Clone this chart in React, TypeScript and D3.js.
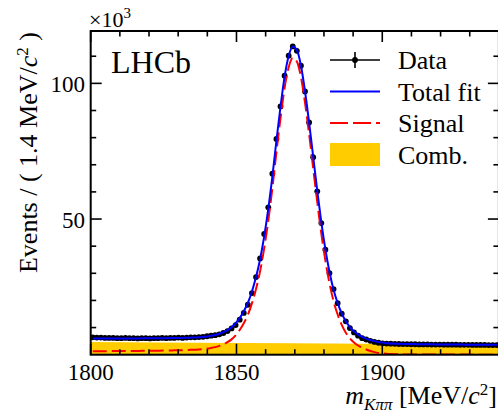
import React from "react";
import * as d3 from "d3";

// Histogram definition (MeV/c^2)
const binLow = 1800;
const binWidth = 1.4;

// Data counts per bin (x10^3 events)
const dataCounts = [
  6.4, 6.3, 6.3, 6.2, 6.2, 6.2, 6.1, 6.1, 6.2, 6.1,
  6.1, 6.0, 6.1, 6.1, 6.0, 6.1, 6.1, 6.2, 6.1, 6.2,
  6.2, 6.3, 6.2, 6.3, 6.4, 6.4, 6.5, 6.6, 6.8, 7.0,
  7.2, 7.5, 8.0, 8.7, 9.7, 10.9, 12.9, 15.4, 18.4, 22.7,
  28.6, 35.5, 44.5, 54.3, 66.7, 79.5, 91.5, 102.8, 110.2, 113.6,
  112.0, 106.5, 97.0, 85.6, 72.8, 60.2, 48.5, 38.7, 30.1, 24.2,
  19.0, 15.1, 12.3, 9.8, 8.2, 7.0, 6.1, 5.6, 5.1, 4.7,
  4.4, 4.2, 4.1, 4.05, 4.0, 3.95, 3.9, 3.9, 3.85, 3.85,
  3.8, 3.8, 3.8, 3.75, 3.75, 3.75, 3.7, 3.7, 3.7, 3.7,
  3.65, 3.65, 3.65, 3.6, 3.6, 3.6, 3.6, 3.55, 3.55, 3.55,
];

// Total fit evaluated at bin centres (x10^3)
const totalFit = [
  6.0, 6.0, 6.0, 6.0, 6.0, 6.0, 6.0, 6.0, 6.0, 6.0,
  6.01, 6.01, 6.02, 6.03, 6.04, 6.05, 6.06, 6.08, 6.1, 6.12,
  6.14, 6.17, 6.2, 6.24, 6.28, 6.34, 6.42, 6.52, 6.7, 6.95,
  7.25, 7.7, 8.3, 9.05, 10.1, 11.6, 13.5, 16.0, 19.1, 23.3,
  28.6, 35.2, 43.6, 53.7, 65.6, 78.9, 91.4, 102.5, 110.1, 113.6,
  112.3, 106.6, 97.1, 85.6, 73.0, 60.5, 48.8, 38.8, 30.5, 23.9,
  19.0, 15.2, 12.3, 10.2, 8.6, 7.5, 6.6, 5.95, 5.4, 5.0,
  4.7, 4.5, 4.25, 4.15, 4.08, 4.02, 3.98, 3.95, 3.92, 3.9,
  3.88, 3.86, 3.84, 3.82, 3.8, 3.78, 3.77, 3.76, 3.74, 3.73,
  3.72, 3.71, 3.7, 3.69, 3.68, 3.67, 3.66, 3.65, 3.64, 3.63,
];

// Signal component at bin centres (x10^3)
const signalFit = [
  1.3, 1.3, 1.31, 1.31, 1.32, 1.33, 1.34, 1.35, 1.36, 1.37,
  1.38, 1.4, 1.41, 1.43, 1.45, 1.47, 1.49, 1.51, 1.54, 1.57,
  1.6, 1.64, 1.68, 1.73, 1.79, 1.86, 1.95, 2.07, 2.25, 2.5,
  2.8, 3.25, 3.85, 4.6, 5.65, 7.15, 9.1, 11.6, 14.7, 18.9,
  24.2, 30.8, 39.2, 49.3, 61.3, 74.7, 87.2, 98.3, 105.9, 109.4,
  108.1, 102.4, 92.9, 81.4, 68.8, 56.3, 44.6, 34.6, 26.3, 19.7,
  14.8, 11.0, 8.1, 6.0, 4.5, 3.4, 2.55, 1.9, 1.35, 0.95,
  0.67, 0.48, 0.35, 0.26, 0.2, 0.16, 0.13, 0.11, 0.09, 0.08,
  0.07, 0.06, 0.055, 0.05, 0.045, 0.04, 0.038, 0.036, 0.034, 0.032,
  0.03, 0.029, 0.028, 0.027, 0.026, 0.025, 0.024, 0.023, 0.022, 0.02,
];

// Combinatorial background (x10^3)
const combMass = [1800, 1835, 1870, 1905, 1940];
const combValues = [4.7, 4.45, 4.2, 3.9, 3.6];

const xMajorTicks = [1800, 1850, 1900];
const yMajorTicks = [50, 100];
const legendLabels = ["Data", "Total fit", "Signal", "Comb."];

const W = 498;
const H = 416;
const FONT = "'Liberation Serif', 'Times New Roman', serif";

export default function App() {
  const x = d3.scaleLinear().domain([1800, 1940]).range([90.7, 498.9]);
  const y = d3.scaleLinear().domain([0, 119.3]).range([354.7, 31]);
  const left = x(1800);
  const right = x(1940);
  const top = y(119.3);
  const bottom = y(0);

  const centers = dataCounts.map((_, i) => binLow + binWidth * (i + 0.5));

  const lineGen = d3
    .line<number>()
    .x((_, i) => x(centers[i]))
    .y((d) => y(d))
    .curve(d3.curveMonotoneX);

  const combArea = d3
    .area<number>()
    .x((_, i) => x(combMass[i]))
    .y0(y(0))
    .y1((d) => y(d));

  const xMinor = d3.range(1800, 1941, 10);
  const yMinor = d3.range(10, 120, 10);

  const legendX0 = 330;
  const legendX1 = 380;
  const legendText = 398;
  const rows = [60, 91.5, 123, 154.5];

  return (
    <svg
      width={W}
      height={H}
      style={{ position: "absolute", left: 0, top: 0, background: "#fff" }}
      fontFamily={FONT}
    >
      <rect x={0} y={0} width={W} height={H} fill="#fff" />
      <defs>
        <clipPath id="plotclip">
          <rect x={left} y={top} width={right - left} height={bottom - top} />
        </clipPath>
      </defs>

      <g clipPath="url(#plotclip)">
        <path d={combArea(combValues) || ""} fill="#FFCC00" />
        {dataCounts.map((v, i) => {
          const cx = x(centers[i]);
          const cy = y(v);
          const err = Math.sqrt(v * 1000) / 1000;
          return (
            <g key={i}>
              <line
                x1={x(centers[i] - binWidth / 2)}
                x2={x(centers[i] + binWidth / 2)}
                y1={cy}
                y2={cy}
                stroke="#000"
                strokeWidth={1.6}
              />
              <line x1={cx} x2={cx} y1={y(v - err)} y2={y(v + err)} stroke="#000" strokeWidth={1.6} />
              <circle cx={cx} cy={cy} r={2.9} fill="#000" />
            </g>
          );
        })}
        <path
          d={lineGen(signalFit) || ""}
          fill="none"
          stroke="#FF0000"
          strokeWidth={2}
          strokeDasharray="14,5"
        />
        <path d={lineGen(totalFit) || ""} fill="none" stroke="#0000FF" strokeWidth={2} />
      </g>

      {xMinor.map((t) => {
        const major = xMajorTicks.includes(t) || t % 50 === 0;
        const len = major ? 11 : 5.5;
        return (
          <g key={"xt" + t}>
            <line x1={x(t)} x2={x(t)} y1={bottom} y2={bottom - len} stroke="#000" strokeWidth={1.6} />
            <line x1={x(t)} x2={x(t)} y1={top} y2={top + len} stroke="#000" strokeWidth={1.6} />
          </g>
        );
      })}
      {yMinor.map((t) => {
        const major = t % 50 === 0;
        const len = major ? 11 : 5.5;
        return (
          <g key={"yt" + t}>
            <line x1={left} x2={left + len} y1={y(t)} y2={y(t)} stroke="#000" strokeWidth={1.6} />
            <line x1={right} x2={right - len} y1={y(t)} y2={y(t)} stroke="#000" strokeWidth={1.6} />
          </g>
        );
      })}

      <rect
        x={left}
        y={top}
        width={right - left}
        height={bottom - top}
        fill="none"
        stroke="#000"
        strokeWidth={2}
      />

      {xMajorTicks.map((t) => (
        <text key={"xl" + t} x={x(t)} y={380} fontSize={23} textAnchor="middle" fill="#000">
          {t}
        </text>
      ))}
      {yMajorTicks.map((t) => (
        <text key={"yl" + t} x={85} y={y(t) + 8.5} fontSize={23} textAnchor="end" fill="#000">
          {t}
        </text>
      ))}
      <text x={89} y={27} fontSize={22} fill="#000">
        ×10
        <tspan dy={-9} fontSize={15}>
          3
        </tspan>
      </text>

      <text x={497} y={404} fontSize={26} textAnchor="end" fill="#000">
        <tspan fontStyle="italic">m</tspan>
        <tspan dy={6} fontSize={17} fontStyle="italic">
          Kππ
        </tspan>
        <tspan dy={-6}> [MeV/</tspan>
        <tspan fontStyle="italic">c</tspan>
        <tspan dy={-9} fontSize={17}>
          2
        </tspan>
        <tspan dy={9}>]</tspan>
      </text>
      <text
        transform="translate(37,32) rotate(-90)"
        fontSize={26}
        textAnchor="end"
        fill="#000"
      >
        Events / ( 1.4 MeV/
        <tspan fontStyle="italic">c</tspan>
        <tspan dy={-9} fontSize={17}>
          2
        </tspan>
        <tspan dy={9}> )</tspan>
      </text>

      <text x={111} y={73} fontSize={32} fill="#000">
        LHCb
      </text>

      <g>
        <line x1={legendX0} x2={legendX1} y1={rows[0]} y2={rows[0]} stroke="#000" strokeWidth={1.6} />
        <line
          x1={(legendX0 + legendX1) / 2}
          x2={(legendX0 + legendX1) / 2}
          y1={rows[0] - 8}
          y2={rows[0] + 8}
          stroke="#000"
          strokeWidth={1.6}
        />
        <circle cx={(legendX0 + legendX1) / 2} cy={rows[0]} r={2.9} fill="#000" />
        <line x1={legendX0} x2={legendX1} y1={rows[1]} y2={rows[1]} stroke="#0000FF" strokeWidth={2} />
        <line
          x1={legendX0}
          x2={legendX1}
          y1={rows[2]}
          y2={rows[2]}
          stroke="#FF0000"
          strokeWidth={2}
          strokeDasharray="18,5"
        />
        <rect x={legendX0} y={rows[3] - 11.5} width={legendX1 - legendX0} height={23} fill="#FFCC00" />
        {legendLabels.map((l, i) => (
          <text key={l} x={legendText} y={rows[i] + 9} fontSize={26} fill="#000">
            {l}
          </text>
        ))}
      </g>
    </svg>
  );
}
